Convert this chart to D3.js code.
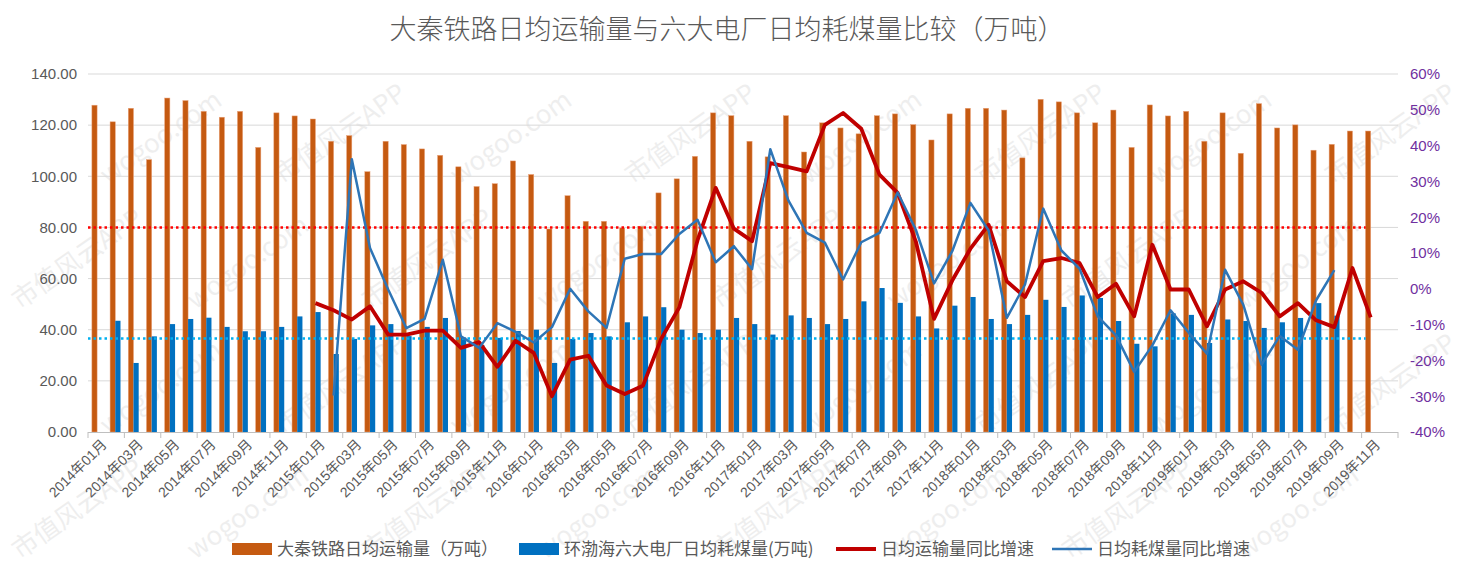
<!DOCTYPE html>
<html lang="zh">
<head>
    <meta charset="UTF-8">
    <title>大秦铁路日均运输量与六大电厂日均耗煤量比较</title>
    <script src="https://d3js.org/d3.v7.min.js"></script>
    <style>
        * {
            margin: 0;
            padding: 0;
            box-sizing: border-box;
        }
        body {
            background: #fff;
            font-family: "Liberation Sans", "Noto Sans CJK SC", sans-serif;
        }
    </style>
</head>
<body>
    <div id="chart"></div>

    <script>
        // 2014年01月 ... 2019年12月 (last month has no data)
        const months = [];
        for (let y = 2014; y <= 2019; y++) {
            for (let m = 1; m <= 12; m++) {
                months.push(`${y}年${String(m).padStart(2, "0")}月`);
            }
        }

        // 大秦铁路日均运输量（万吨）
        const transport = [
            127.8, 121.3, 126.6, 106.5, 130.6, 129.6, 125.4, 123.1, 125.4, 111.3, 124.8, 123.6,
            122.4, 113.7, 115.9, 101.8, 113.7, 112.4, 110.7, 108.2, 103.7, 96.0, 97.1, 106.0,
            100.7, 79.4, 92.4, 82.4, 82.4, 79.8, 80.4, 93.5, 99.0, 107.8, 124.8, 123.7,
            113.7, 107.6, 123.7, 109.5, 120.9, 118.9, 116.6, 123.7, 124.4, 120.2, 114.2, 124.4,
            126.6, 126.6, 125.9, 107.2, 130.1, 129.1, 124.8, 120.9, 125.9, 111.3, 127.9, 123.6,
            125.4, 113.7, 124.8, 109.0, 128.4, 118.9, 120.1, 110.2, 112.5, 117.7, 117.7, null
        ];

        // 环渤海六大电厂日均耗煤量(万吨)
        const coal = [
            null, 43.5, 27.0, 37.4, 42.2, 44.2, 44.7, 41.1, 39.4, 39.4, 41.1, 45.2,
            46.9, 30.5, 36.4, 41.7, 42.2, 37.5, 41.1, 44.6, 37.0, 34.0, 36.8, 39.5,
            40.0, 27.0, 36.4, 38.7, 37.4, 42.9, 45.2, 48.8, 40.0, 38.7, 40.0, 44.6,
            42.2, 38.1, 45.6, 44.6, 42.2, 44.2, 51.1, 56.3, 50.5, 45.2, 40.5, 49.4,
            52.8, 44.2, 42.2, 45.8, 51.7, 48.9, 53.4, 52.4, 43.4, 34.5, 33.5, 46.4,
            45.8, 34.8, 44.0, 43.4, 40.7, 42.9, 44.6, 50.4, 45.5, null, null, null
        ];

        // 日均运输量同比增速 (%)
        const transportYoY = [
            null, null, null, null, null, null, null, null, null, null, null, null,
            -4.0, -6.0, -8.6, -4.9, -12.8, -12.8, -11.7, -11.7, -16.5, -14.9, -21.8, -14.5,
            -17.9, -30.0, -19.8, -18.7, -27.0, -29.4, -27.1, -14.0, -5.2, 13.5, 28.2, 16.8,
            13.3, 35.1, 34.0, 32.8, 45.8, 49.1, 44.7, 31.9, 26.8, 13.2, -8.4, 2.3,
            11.2, 17.9, 2.1, -2.3, 7.7, 8.6, 7.2, -2.3, 1.4, -7.7, 12.3, -0.2,
            -0.2, -10.5, -0.2, 2.1, -1.1, -7.7, -4.0, -8.8, -10.7, 5.8, -8.0, null
        ];

        // 日均耗煤量同比增速 (%)
        const coalYoY = [
            null, null, null, null, null, null, null, null, null, null, null, null,
            null, -29.8, 36.2, 11.4, -0.2, -11.0, -8.4, 8.1, -13.3, -16.5, -9.6, -12.0,
            -15.0, -10.7, 0.0, -6.3, -10.9, 8.4, 9.7, 9.7, 15.3, 19.3, 7.4, 11.9,
            5.5, 39.0, 24.6, 15.6, 12.9, 2.6, 13.0, 15.6, 26.9, 16.5, 1.5, 10.5,
            24.0, 16.3, -8.1, 1.2, 22.4, 10.7, 5.6, -7.7, -13.0, -23.2, -15.8, -6.0,
            -12.3, -18.1, 5.3, -4.5, -21.2, -13.2, -17.0, -3.2, 5.2, null, null, null
        ];

        // dotted reference levels (万吨)
        const refTransport = 80;
        const refCoal = 36.6;

        const leftTicks = [0, 20, 40, 60, 80, 100, 120, 140];
        const rightTicks = [-40, -30, -20, -10, 0, 10, 20, 30, 40, 50, 60];

        const seriesNames = [
            "大秦铁路日均运输量（万吨）",
            "环渤海六大电厂日均耗煤量(万吨)",
            "日均运输量同比增速",
            "日均耗煤量同比增速"
        ];
        const colors = ["#C55A11", "#0070C0", "#C00000", "#2E75B6"];

        const W = 1468, H = 583;
        const plot = { left: 88, right: 1398, top: 74, bottom: 432 };

        const svg = d3.select("#chart")
            .append("svg")
            .attr("width", W)
            .attr("height", H);

        svg.append("rect").attr("width", W).attr("height", H).attr("fill", "#fff");

        const x = d3.scaleBand()
            .domain(months)
            .range([plot.left, plot.right])
            .padding(0);

        const barW = 5.2;
        const cx = d => x(d) + x.bandwidth() / 2;

        const y = d3.scaleLinear()
            .domain([0, 140])
            .range([plot.bottom, plot.top]);

        const y2 = d3.scaleLinear()
            .domain([-40, 60])
            .range([plot.bottom, plot.top]);

        // watermark (behind everything, only full marks kept)
        const marks = ["市值风云APP", "wogoo.com"];
        const wm = svg.append("g").style("pointer-events", "none");
        for (let r = -1; r < 6; r++) {
            for (let c = -1; c < 9; c++) {
                const t = wm.append("text")
                    .attr("transform", `translate(${c * 175 + (r % 2) * 88 + 20},${r * 125 + 60}) rotate(-35)`)
                    .style("font-family", "'Noto Sans CJK SC', sans-serif")
                    .style("font-size", "26px")
                    .style("fill", "#9a9a9a")
                    .style("opacity", 0.16)
                    .text(marks[(r + c + 2) % 2]);
                const b = t.node().getBoundingClientRect();
                if (b.left < 2 || b.top < 2 || b.right > W - 2 || b.bottom > H - 2) t.remove();
            }
        }

        // title
        svg.append("text")
            .attr("x", 727)
            .attr("y", 39)
            .attr("text-anchor", "middle")
            .style("font-family", "'Noto Sans CJK SC', sans-serif")
            .style("font-size", "27px")
            .style("font-weight", "300")
            .style("fill", "#595959")
            .text("大秦铁路日均运输量与六大电厂日均耗煤量比较（万吨）");

        // grid
        svg.append("g")
            .selectAll("line")
            .data(leftTicks.slice(1))
            .join("line")
            .attr("x1", plot.left)
            .attr("x2", plot.right)
            .attr("y1", d => y(d))
            .attr("y2", d => y(d))
            .style("stroke", "#d9d9d9")
            .style("stroke-width", 1);

        // left axis
        const yAxis = svg.append("g")
            .attr("transform", `translate(${plot.left},0)`)
            .call(d3.axisLeft(y).tickValues(leftTicks).tickSize(0).tickPadding(11).tickFormat(d3.format(".2f")));
        yAxis.select(".domain").remove();
        yAxis.selectAll("text")
            .style("font-size", "15px")
            .style("fill", "#595959");

        // right axis
        const yAxis2 = svg.append("g")
            .attr("transform", `translate(${plot.right},0)`)
            .call(d3.axisRight(y2).tickValues(rightTicks).tickSize(0).tickPadding(12).tickFormat(d => d + "%"));
        yAxis2.select(".domain").remove();
        yAxis2.selectAll("text")
            .style("font-size", "15px")
            .style("fill", "#7030A0");

        // bars
        svg.append("g")
            .selectAll("rect")
            .data(months.map((m, i) => ({ m, v: transport[i] })).filter(d => d.v != null))
            .join("rect")
            .attr("x", d => cx(d.m) - barW)
            .attr("y", d => y(d.v))
            .attr("width", barW)
            .attr("height", d => y(0) - y(d.v))
            .attr("fill", colors[0])
            .attr("stroke", "#E9A27A")
            .attr("stroke-width", 0.5);

        svg.append("g")
            .selectAll("rect")
            .data(months.map((m, i) => ({ m, v: coal[i] })).filter(d => d.v != null))
            .join("rect")
            .attr("x", d => cx(d.m))
            .attr("y", d => y(d.v))
            .attr("width", barW)
            .attr("height", d => y(0) - y(d.v))
            .attr("fill", colors[1]);

        // x axis
        svg.append("line")
            .attr("x1", plot.left).attr("x2", plot.right)
            .attr("y1", plot.bottom + 0.5).attr("y2", plot.bottom + 0.5)
            .style("stroke", "#bfbfbf");

        svg.append("g")
            .selectAll("line")
            .data(months.filter((m, i) => i % 2 === 0).concat([null]))
            .join("line")
            .attr("x1", d => d ? x(d) : plot.right)
            .attr("x2", d => d ? x(d) : plot.right)
            .attr("y1", plot.bottom)
            .attr("y2", plot.bottom + 6)
            .style("stroke", "#bfbfbf");

        svg.append("g")
            .selectAll("text")
            .data(months.filter((m, i) => i % 2 === 0))
            .join("text")
            .attr("transform", d => `translate(${cx(d) + 7},${plot.bottom + 10}) rotate(-45)`)
            .attr("text-anchor", "end")
            .attr("dy", "0.35em")
            .style("font-size", "14px")
            .style("fill", "#595959")
            .text(d => d);

        // dotted reference lines
        const lastIdx = 70;
        [[refTransport, "#FF0000"], [refCoal, "#00B0F0"]].forEach(([v, c]) => {
            svg.append("line")
                .attr("x1", plot.left)
                .attr("x2", cx(months[lastIdx]) - 5)
                .attr("y1", y(v))
                .attr("y2", y(v))
                .style("stroke", c)
                .style("stroke-width", 2.5)
                .style("stroke-dasharray", "2.5,3");
        });

        // lines
        const line = d3.line()
            .defined(d => d.v != null)
            .x(d => cx(d.m))
            .y(d => y2(d.v));

        svg.append("path")
            .datum(months.map((m, i) => ({ m, v: transportYoY[i] })))
            .attr("fill", "none")
            .attr("stroke", colors[2])
            .attr("stroke-width", 3.8)
            .attr("stroke-linejoin", "round")
            .attr("d", line);

        svg.append("path")
            .datum(months.map((m, i) => ({ m, v: coalYoY[i] })))
            .attr("fill", "none")
            .attr("stroke", colors[3])
            .attr("stroke-width", 2.5)
            .attr("stroke-linejoin", "round")
            .attr("d", line);

        // legend
        const legendX = [232, 519, 836, 1052];
        const legend = svg.append("g").attr("transform", "translate(0,549)");
        seriesNames.forEach((name, i) => {
            const g = legend.append("g").attr("transform", `translate(${legendX[i]},0)`);
            if (i < 2) {
                g.append("rect")
                    .attr("x", 0).attr("y", -6)
                    .attr("width", 40).attr("height", 12)
                    .attr("fill", colors[i]);
            } else {
                g.append("line")
                    .attr("x1", 0).attr("x2", 40)
                    .attr("y1", 0).attr("y2", 0)
                    .attr("stroke", colors[i])
                    .attr("stroke-width", i === 2 ? 4 : 2.5);
            }
            g.append("text")
                .attr("x", 45)
                .attr("y", 0)
                .attr("dy", "0.36em")
                .style("font-family", "'Noto Sans CJK SC', sans-serif")
                .style("font-size", "17px")
                .style("fill", "#595959")
                .text(name);
        });
    </script>
</body>
</html>
